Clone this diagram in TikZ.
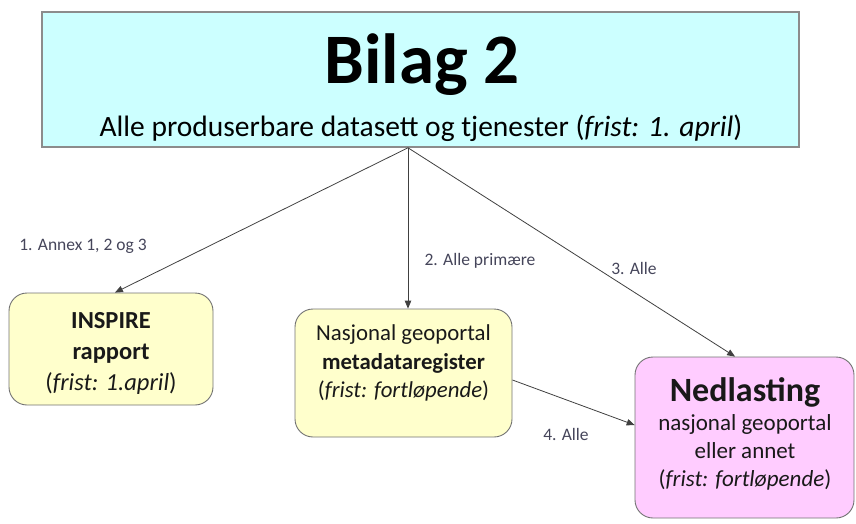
\documentclass[tikz,border=0pt]{standalone}
\usepackage{fontspec}
\setmainfont{Carlito}
\usepackage{tikz}
\usetikzlibrary{arrows,positioning}

\definecolor{bilagcyan}{HTML}{CCFFFF}
\definecolor{boksgul}{HTML}{FFFFCC}
\definecolor{boksrosa}{HTML}{FFCCFF}
\definecolor{etikettgraa}{HTML}{45455A}

\begin{document}
\begin{tikzpicture}[x = 1pt, y = -1pt, > = triangle 45,
    boks/.style = {draw = black!55, line width = 0.9pt, rounded corners = 18pt},
    tekst/.style = {align = center, text = black!90, inner sep = 0pt},
    pil/.style = {->, draw = black!75, line width = 0.8pt},
    etikett/.style = {text = etikettgraa, inner sep = 1pt, font = \fontsize{17.5}{20}\selectfont}]
    \useasboundingbox (0,0) rectangle (856,524);
    % toppboks
    \node at (420.5,79.5) [fill = bilagcyan, draw = black!45, line width = 1.6pt, minimum width = 757pt, minimum height = 135pt] (bilag) {};
    \node at (422,84) [anchor = base, inner sep = 0pt] (tittel) {\fontsize{71}{71}\selectfont\bfseries Bilag 2};
    \node at (421,136) [anchor = base, inner sep = 0pt] (undertittel) {\fontsize{29.5}{32}\selectfont Alle produserbare datasett og tjenester (\textit{frist: 1. april})};
    % bokser
    \node at (111,349) [boks, fill = boksgul, minimum width = 204pt, minimum height = 112pt] (inspire) {};
    \node at (111,353.5) [tekst, font = \fontsize{24.5}{31}\selectfont] (inspiretekst) {\textbf{INSPIRE}\\ \textbf{rapport}\\ (\textit{frist: 1.april})};
    \node at (403.5,373) [boks, fill = boksgul, minimum width = 217pt, minimum height = 128pt] (meta) {};
    \node at (403.5,363) [tekst, font = \fontsize{22.8}{28.5}\selectfont] (metatekst) {Nasjonal geoportal\\ \textbf{metadataregister}\\ (\textit{frist: fortløpende})};
    \node at (744.5,437.5) [boks, fill = boksrosa, minimum width = 219pt, minimum height = 161pt] (ned) {};
    \node at (745,392) [tekst, font = \fontsize{34}{36}\selectfont\bfseries] (nedtittel) {Nedlasting};
    \node at (745,452.5) [tekst, font = \fontsize{23}{28}\selectfont] (nedtekst) {nasjonal geoportal\\ eller annet\\ (\textit{frist: fortløpende})};
    % piler
    \coordinate (kilde) at ([xshift = -12.5pt]bilag.south);
    \draw[pil] (kilde) -- ([xshift = 4pt]inspire.north);
    \draw[pil] (kilde) -- ([xshift = 4.5pt]meta.north);
    \draw[pil] (kilde) -- ([xshift = -9.5pt]ned.north);
    \draw[pil] ([yshift = -7pt]meta.east) -- ([yshift = 12.5pt]ned.west);
    % etiketter
    \node at (83,246) [etikett] (e1) {1. Annex 1, 2 og 3};
    \node at (480,261) [etikett] (e2) {2. Alle primære};
    \node at (634,268) [etikett] (e3) {3. Alle};
    \node at (566,434) [etikett] (e4) {4. Alle};
\end{tikzpicture}
\end{document}
